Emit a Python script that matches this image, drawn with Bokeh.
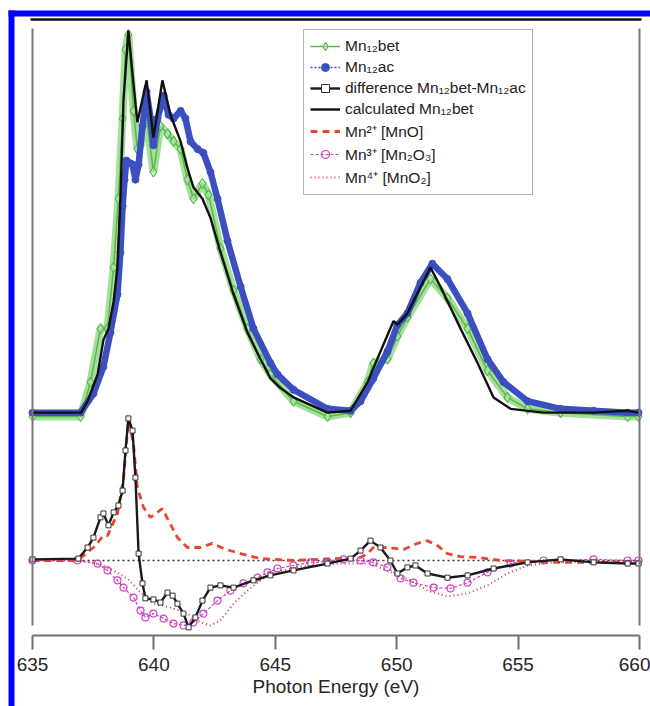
from bokeh.plotting import figure
from bokeh.models import (Range1d, LinearAxis, FixedTicker, Legend, LegendItem,
                          Span, BoxAnnotation)
from bokeh.embed import file_html
from bokeh.resources import INLINE

# ---------------- data ----------------
# Photon energy (eV) and normalised intensities (a.u.)
energy_bet = [635.0, 636.98, 637.39, 637.80, 638.09, 638.34, 638.54, 638.71, 638.83, 638.95,
              639.16, 639.32, 639.45, 639.70, 639.98, 640.27, 640.56, 640.81, 641.10, 641.38,
              641.63, 642.00, 642.25, 642.74, 643.28, 643.85, 644.39, 644.80, 645.75, 647.15,
              648.10, 648.80, 649.04, 649.62, 650.03, 650.44, 651.39, 652.09, 652.92, 653.74,
              654.56, 655.39, 656.75, 659.51, 659.96]
mn12bet = [-0.01, -0.01, 0.08, 0.22, 0.22, 0.38, 0.56, 0.77, 0.95, 0.99,
           0.79, 0.69, 0.70, 0.77, 0.63, 0.75, 0.73, 0.71, 0.69, 0.61,
           0.56, 0.60, 0.57, 0.43, 0.32, 0.22, 0.14, 0.10, 0.03, -0.01,
           0.00, 0.08, 0.13, 0.14, 0.20, 0.25, 0.35, 0.30, 0.22, 0.11,
           0.04, 0.01, 0.00, -0.01, -0.01]

energy_ac = [635.0, 636.98, 637.51, 637.92, 638.21, 638.50, 638.62, 638.71, 638.79, 638.87,
             639.12, 639.24, 639.37, 639.53, 639.70, 639.86, 639.98, 640.15, 640.40, 640.60,
             640.81, 641.10, 641.30, 641.51, 641.80, 642.04, 642.33, 642.62, 643.03, 643.57,
             644.10, 644.80, 645.09, 645.75, 647.15, 648.10, 648.51, 649.04, 649.62, 650.03,
             650.44, 650.98, 651.47, 652.09, 652.92, 653.74, 654.40, 655.39, 656.75, 658.11,
             659.51, 659.96]
mn12ac = [0.00, 0.00, 0.05, 0.12, 0.21, 0.31, 0.42, 0.54, 0.61, 0.66,
          0.65, 0.61, 0.65, 0.75, 0.84, 0.77, 0.70, 0.77, 0.83, 0.78,
          0.77, 0.79, 0.77, 0.71, 0.69, 0.68, 0.63, 0.56, 0.45, 0.33,
          0.22, 0.13, 0.10, 0.06, 0.01, 0.005, 0.03, 0.09, 0.16, 0.23,
          0.26, 0.34, 0.39, 0.35, 0.26, 0.14, 0.08, 0.03, 0.01, 0.005,
          0.00, 0.00]

energy_calc = [635.0, 637.0, 637.27, 637.68, 637.92, 638.13, 638.34, 638.50, 638.62, 638.75,
               638.95, 639.16, 639.32, 639.70, 639.98, 640.35, 640.68, 641.10, 641.38, 641.63,
               642.00, 642.33, 642.74, 643.28, 643.85, 644.39, 644.80, 645.20, 645.75, 647.15,
               648.10, 648.80, 649.33, 649.87, 650.03, 650.44, 651.39, 651.80, 652.63, 653.33,
               653.99, 654.69, 656.05, 658.11, 659.51, 659.96]
calc_bet = [0.00, 0.00, 0.03, 0.10, 0.19, 0.22, 0.29, 0.38, 0.56, 0.82,
            1.00, 0.86, 0.76, 0.87, 0.72, 0.87, 0.78, 0.71, 0.64, 0.59,
            0.56, 0.51, 0.42, 0.31, 0.21, 0.14, 0.09, 0.065, 0.04, 0.00,
            0.005, 0.08, 0.16, 0.24, 0.23, 0.26, 0.38, 0.33, 0.22, 0.13,
            0.04, 0.01, 0.00, 0.00, 0.005, 0.00]

energy_diff = [635.0, 636.89, 637.27, 637.51, 637.80, 637.92, 638.13, 638.34, 638.54, 638.71,
               638.83, 638.95, 639.12, 639.24, 639.37, 639.53, 639.65, 639.98, 640.27, 640.56,
               640.77, 640.97, 641.22, 641.43, 641.71, 642.00, 642.33, 642.74, 643.28, 644.10,
               644.80, 645.75, 647.15, 648.10, 648.51, 648.92, 649.33, 649.74, 650.03, 650.44,
               650.77, 651.27, 652.09, 652.92, 653.99, 655.39, 656.75, 658.11, 659.51, 659.96]
diff_bet_ac = [0.003, 0.005, 0.034, 0.060, 0.113, 0.123, 0.092, 0.126, 0.144, 0.183,
               0.288, 0.372, 0.340, 0.217, 0.018, -0.060, -0.099, -0.102, -0.110, -0.084,
               -0.092, -0.113, -0.139, -0.175, -0.149, -0.105, -0.071, -0.065, -0.071, -0.052,
               -0.039, -0.026, -0.008, 0.005, 0.026, 0.052, 0.034, 0.000, -0.034, -0.018,
               -0.013, -0.034, -0.045, -0.039, -0.021, -0.005, 0.003, -0.005, -0.008, -0.008]

energy_mn2 = [635.0, 636.85, 637.51, 637.92, 638.09, 638.50, 638.75, 638.95, 639.16, 639.32,
              639.57, 639.86, 640.35, 640.60, 640.97, 641.38, 641.92, 642.41, 642.87, 643.57,
              644.39, 645.75, 648.51, 648.80, 649.04, 649.62, 650.28, 650.86, 651.27, 651.68,
              652.09, 652.63, 653.33, 654.28, 656.75, 659.96]
mn2_mno = [0.0, 0.0, 0.034, 0.065, 0.065, 0.123, 0.217, 0.366, 0.306, 0.191,
           0.139, 0.113, 0.136, 0.105, 0.060, 0.034, 0.034, 0.045, 0.031, 0.018,
           0.005, 0.0, 0.008, 0.018, 0.034, 0.034, 0.029, 0.045, 0.052, 0.039,
           0.018, 0.010, 0.008, 0.0, -0.005, -0.005]

energy_mn3 = [635.0, 636.85, 637.68, 638.09, 638.50, 638.75, 639.16, 639.45, 639.65, 639.98,
              640.40, 640.81, 641.22, 641.63, 642.04, 642.62, 643.15, 643.69, 644.27, 644.68,
              645.09, 645.75, 646.45, 647.15, 647.81, 648.51, 649.04, 649.62, 650.16, 650.69,
              651.52, 652.22, 652.92, 653.74, 654.69, 656.05, 658.11, 659.51, 659.96]
mn3_mn2o3 = [0.0, 0.0, -0.008, -0.026, -0.052, -0.071, -0.097, -0.131, -0.149, -0.139,
             -0.152, -0.165, -0.170, -0.162, -0.139, -0.105, -0.079, -0.060, -0.045, -0.031,
             -0.021, -0.013, -0.005, -0.003, 0.003, 0.0, -0.005, -0.018, -0.047, -0.058,
             -0.071, -0.073, -0.058, -0.031, -0.008, 0.0, 0.003, 0.0, 0.0]

energy_mn4 = [635.0, 636.98, 637.80, 638.34, 638.91, 639.45, 639.98, 640.68, 641.38, 641.92,
              642.33, 642.74, 643.28, 643.85, 644.39, 644.80, 646.04, 647.69, 648.92, 649.87,
              650.57, 651.27, 652.09, 652.92, 653.74, 654.56, 655.39, 656.33, 658.39, 659.96]
mn4_mno2 = [0.0, 0.0, -0.010, -0.026, -0.047, -0.084, -0.113, -0.123, -0.139, -0.162,
            -0.170, -0.157, -0.113, -0.079, -0.052, -0.034, -0.016, -0.008, -0.008, -0.034,
            -0.052, -0.079, -0.094, -0.086, -0.065, -0.034, -0.013, -0.005, -0.003, -0.003]

x_ticks = [635, 640, 645, 650, 655, 660]
x_label = "Photon Energy (eV)"
legend_labels = ["Mn\u2081\u2082bet", "Mn\u2081\u2082ac",
                 "difference Mn\u2081\u2082bet-Mn\u2081\u2082ac", "calculated Mn\u2081\u2082bet",
                 "Mn\u00b2\u207a [MnO]", "Mn\u00b3\u207a [Mn\u2082O\u2083]",
                 "Mn\u2074\u207a [MnO\u2082]"]

OFFSET = 0.387   # vertical shift of the upper (absorption) spectra

FONT = "Liberation Sans"

# ---------------- layout geometry ----------------
W, H = 650, 706
E_MIN, E_MAX = 635.0, 660.0            # energy axis extent
PX_E = 607.0 / (E_MAX - E_MIN)         # pixels per eV
PX_Y = 382.0                           # pixels per intensity unit
LEFT_PX, ZERO_PX = 32, 560             # pixel of 635 eV and of the difference zero line

def ex(px):      # energy value at horizontal pixel px
    return E_MIN + (px - LEFT_PX) / PX_E

def iy(px):      # intensity value at vertical pixel px (from top)
    return (ZERO_PX - px) / PX_Y

p = figure(width=W, height=H, output_backend="svg", toolbar_location=None,
           x_range=Range1d(ex(0), ex(W)), y_range=Range1d(iy(H), iy(0)),
           x_axis_location="below", y_axis_location=None,
           min_border_left=0, min_border_right=0, min_border_top=0,
           min_border_bottom=0, background_fill_color="white",
           border_fill_color="white", outline_line_color=None)
p.grid.visible = False

# bottom axis, placed at the bottom of the data panel
xa = p.xaxis[0]
xa.fixed_location = iy(635)
xa.bounds = (E_MIN, E_MAX)
xa.ticker = FixedTicker(ticks=x_ticks)
xa.axis_line_color = "#6e6e6e"
xa.axis_line_width = 2
xa.major_tick_line_color = "#6e6e6e"
xa.major_tick_line_width = 2
xa.major_tick_out = 14
xa.major_tick_in = 0
xa.minor_tick_out = 0
xa.minor_tick_in = 0
xa.major_label_text_font = FONT
xa.major_label_text_font_size = "19px"
xa.major_label_text_color = "#262626"
xa.major_label_standoff = 8
xa.axis_label = x_label
xa.axis_label_text_font = FONT
xa.axis_label_text_font_size = "19px"
xa.axis_label_text_font_style = "normal"
xa.axis_label_text_color = "#262626"
xa.axis_label_standoff = 2

# left / right frame lines (no ticks), top black line
def bare_axis(color, width, loc, bounds):
    return LinearAxis(ticker=FixedTicker(ticks=[]), major_tick_out=0, major_tick_in=0,
                      minor_tick_out=0, minor_tick_in=0, major_label_text_font_size="0px",
                      axis_line_color=color, axis_line_width=width,
                      fixed_location=loc, bounds=bounds)

side_bounds = (iy(625), iy(28))
p.add_layout(bare_axis("#7a7a7a", 2, E_MIN, side_bounds), "left")
p.add_layout(bare_axis("#7a7a7a", 2, E_MAX, side_bounds), "right")
p.add_layout(bare_axis("#111111", 2.5, iy(19), (ex(30), ex(641))), "above")

# blue frame of the figure panel
band_kw = dict(fill_color="#0000ff", fill_alpha=1.0, line_color=None, level="overlay")
p.add_layout(BoxAnnotation(left=ex(8), right=ex(14), top=iy(10), **band_kw))
p.add_layout(BoxAnnotation(left=ex(8), top=iy(10), bottom=iy(16), **band_kw))

# ---------------- series ----------------
bet_y = [v + OFFSET for v in mn12bet]
ac_y = [v + OFFSET for v in mn12ac]
calc_y = [v + OFFSET for v in calc_bet]

GREEN = "#55b94d"
BLUE = "#3b4fc0"

# Mn12bet (green open diamonds)
p.line(energy_bet, bet_y, line_color="#9bdc8f", line_width=8, line_alpha=0.9)
g_line = p.line(energy_bet, bet_y, line_color=GREEN, line_width=1.5)
g_mark = p.scatter(energy_bet, bet_y, marker="diamond", size=10, fill_color="#c8efc2",
                   fill_alpha=0.6, line_color=GREEN, line_width=1.2)

# Mn12ac (blue filled circles, dotted)
p.line(energy_ac, ac_y, line_color=BLUE, line_width=6.5)
b_line = p.line(energy_ac, ac_y, line_color=BLUE, line_width=1.5, line_dash="2 2")
b_mark = p.scatter(energy_ac, ac_y, marker="circle", size=7, fill_color=BLUE,
                   line_color=BLUE)

# calculated Mn12bet (black line)
c_line = p.line(energy_calc, calc_y, line_color="#111111", line_width=2.4)

# zero line of the difference panel
p.line([E_MIN, E_MAX], [0, 0], line_color="#333333", line_width=1.5, line_dash="2 3")

# reference compounds
m2 = p.line(energy_mn2, mn2_mno, line_color="#e8472f", line_width=2.8, line_dash="7 5")
m3_line = p.line(energy_mn3, mn3_mn2o3, line_color="#cc3fbf", line_width=1.2,
                 line_dash="3 2")
m3_mark = p.scatter(energy_mn3, mn3_mn2o3, marker="circle", size=7, fill_color=None,
                    line_color="#cc3fbf", line_width=1.2)
m4 = p.line(energy_mn4, mn4_mno2, line_color="#e0305f", line_width=2, line_dash="1 3")

# difference (black line with open squares)
d_line = p.line(energy_diff, diff_bet_ac, line_color="#1a1a1a", line_width=2.4)
d_mark = p.scatter(energy_diff, diff_bet_ac, marker="square", size=5, fill_color="white",
                   line_color="#333333", line_width=1)

# ---------------- legend ----------------
items = [
    LegendItem(label=legend_labels[0], renderers=[g_line, g_mark]),
    LegendItem(label=legend_labels[1], renderers=[b_line, b_mark]),
    LegendItem(label=legend_labels[2], renderers=[d_line, d_mark]),
    LegendItem(label=legend_labels[3], renderers=[c_line]),
    LegendItem(label=legend_labels[4], renderers=[m2]),
    LegendItem(label=legend_labels[5], renderers=[m3_line, m3_mark]),
    LegendItem(label=legend_labels[6], renderers=[m4]),
]
legend = Legend(items=items, location=(303, H - 195), orientation="vertical",
                label_text_font=FONT, label_text_font_size="15.5px",
                label_text_color="#222222", glyph_width=30, glyph_height=20,
                label_height=20, spacing=1, padding=6, label_standoff=5, margin=0,
                border_line_color="#666666", border_line_width=1.5,
                background_fill_color="white", background_fill_alpha=1.0)
p.add_layout(legend, "center")

open("out.html", "w").write(file_html(p, INLINE))
